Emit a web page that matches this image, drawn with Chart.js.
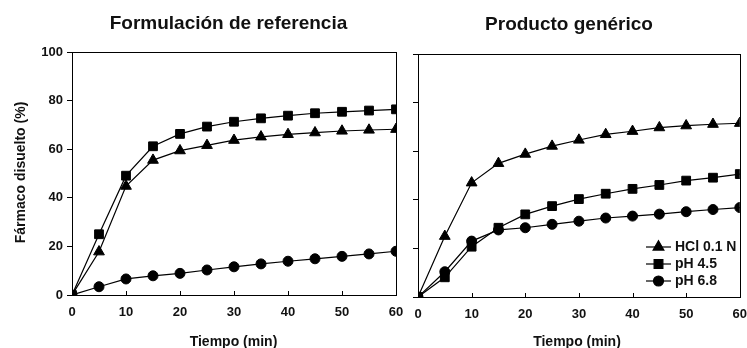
<!DOCTYPE html>
<html>
<head>
<meta charset="utf-8">
<script src="https://cdn.jsdelivr.net/npm/chart.js@4.4.1/dist/chart.umd.min.js"></script>
<style>
html, body { margin: 0; padding: 0; background: #fff; }
#wrap { position: relative; width: 747px; height: 348px; overflow: hidden; }
canvas { position: absolute; top: 0; }
#chartRef { left: 0; }
#chartGen { left: 405px; }
</style>
</head>
<body>
<div id="wrap">
  <canvas id="chartRef" width="405" height="348"></canvas>
  <canvas id="chartGen" width="342" height="348"></canvas>
</div>
<script>
// Tiempo de muestreo (min)
const tiempo = [0, 5, 10, 15, 20, 25, 30, 35, 40, 45, 50, 55, 60];

// Formulación de referencia (% disuelto)
const refHCl  = [0, 17.8, 44.8, 55.5, 59.4, 61.6, 63.7, 65.1, 66.1, 66.8, 67.5, 67.9, 68.2];
const refPH45 = [0, 25.0, 49.1, 61.2, 66.3, 69.3, 71.3, 72.7, 73.8, 74.8, 75.4, 75.9, 76.4];
const refPH68 = [0, 3.4, 6.6, 7.9, 8.9, 10.3, 11.6, 12.8, 13.9, 14.9, 15.9, 16.9, 18.0];

// Producto genérico (% disuelto)
const genHCl  = [0, 25.0, 47.0, 55.0, 58.8, 62.1, 64.6, 66.9, 68.2, 69.7, 70.5, 71.1, 71.5];
const genPH45 = [0, 8.1, 20.7, 28.5, 34.0, 37.4, 40.3, 42.5, 44.5, 46.1, 47.9, 49.1, 50.6];
const genPH68 = [0, 10.4, 23.0, 27.6, 28.5, 29.9, 31.2, 32.5, 33.3, 34.1, 35.1, 36.0, 36.8];

const medios = ['HCl 0.1 N', 'pH 4.5', 'pH 6.8'];
const simbolos = ['triangle', 'rect', 'circle'];
const radios = [6.2, 6.2, 5];

const xTicks = [0, 10, 20, 30, 40, 50, 60];
const yTicks = [0, 20, 40, 60, 80, 100];

const FONT = '"Liberation Sans", Arial, Helvetica, sans-serif';

function makeDatasets(series) {
    return series.map((vals, i) => ({
        label: medios[i],
        data: tiempo.map((t, j) => ({ x: t, y: vals[j] })),
        borderColor: '#000',
        backgroundColor: '#000',
        borderWidth: 1.2,
        pointStyle: simbolos[i],
        pointRadius: radios[i],
        pointBackgroundColor: '#000',
        pointBorderColor: '#000',
        pointBorderWidth: 1,
        tension: 0,
        fill: false
    }));
}

// marcos, títulos, marcas internas del eje x y leyenda
const panelDecor = {
    id: 'panelDecor',
    afterDraw(chart, args, opts) {
        const { ctx, chartArea } = chart;
        const a = chartArea;
        ctx.save();
        ctx.strokeStyle = '#000';
        ctx.lineWidth = 1;
        ctx.strokeRect(Math.round(a.left) + 0.5, Math.round(a.top) + 0.5,
                       Math.round(a.right - a.left), Math.round(a.bottom - a.top));

        // marcas hacia dentro en el eje x
        const xs = chart.scales.x;
        ctx.beginPath();
        xs.ticks.forEach(t => {
            const px = Math.round(xs.getPixelForValue(t.value)) + 0.5;
            ctx.moveTo(px, a.bottom);
            ctx.lineTo(px, a.bottom - 4);
        });
        ctx.stroke();

        ctx.fillStyle = '#111';
        ctx.textAlign = 'center';
        ctx.textBaseline = 'alphabetic';
        ctx.font = 'bold 19px ' + FONT;
        ctx.fillText(opts.title, opts.titleX, opts.titleY);

        ctx.font = 'bold 14px ' + FONT;
        ctx.fillText('Tiempo (min)', opts.xTitleX, 345.5);

        if (opts.yTitle) {
            ctx.save();
            ctx.translate(25, 172.5);
            ctx.rotate(-Math.PI / 2);
            ctx.fillText(opts.yTitle, 0, 0);
            ctx.restore();
        }

        if (opts.legend) {
            const L = opts.legend;
            ctx.font = 'bold 14px ' + FONT;
            ctx.textAlign = 'left';
            ctx.textBaseline = 'middle';
            chart.data.datasets.forEach((ds, i) => {
                const y = L.y + i * L.gap;
                ctx.beginPath();
                ctx.lineWidth = 1.2;
                ctx.moveTo(L.x1, y);
                ctx.lineTo(L.x2, y);
                ctx.stroke();
                ctx.fillStyle = '#000';
                Chart.helpers.drawPoint(ctx, {
                    pointStyle: ds.pointStyle,
                    radius: ds.pointRadius,
                    rotation: 0,
                    borderWidth: 1
                }, (L.x1 + L.x2) / 2, y);
                ctx.fillStyle = '#111';
                ctx.fillText(ds.label, L.tx, y + 0.5);
            });
        }
        ctx.restore();
    }
};

function makeOptions(cfg) {
    return {
        responsive: false,
        animation: false,
        devicePixelRatio: 1,
        layout: { padding: { top: cfg.top, right: cfg.right, left: 0, bottom: 0 } },
        plugins: {
            legend: { display: false },
            tooltip: { enabled: false },
            panelDecor: cfg.decor
        },
        scales: {
            x: {
                type: 'linear',
                min: 0, max: 60,
                afterBuildTicks: s => { s.ticks = xTicks.map(v => ({ value: v })); },
                afterFit: s => { s.height = cfg.xHeight; s.paddingLeft = 0; s.paddingRight = 0; },
                border: { display: false },
                grid: { display: false, drawTicks: false },
                ticks: {
                    padding: 10,
                    color: '#111',
                    font: { family: FONT, size: 13, weight: 'bold' },
                    maxRotation: 0
                }
            },
            y: {
                type: 'linear',
                min: 0, max: 100,
                afterBuildTicks: s => { s.ticks = yTicks.map(v => ({ value: v })); },
                afterFit: s => { s.width = cfg.yWidth; },
                border: { display: false },
                grid: {
                    drawOnChartArea: false,
                    drawTicks: true,
                    tickLength: 5,
                    color: '#000',
                    lineWidth: 1
                },
                ticks: {
                    display: cfg.yLabels,
                    padding: 4,
                    color: '#111',
                    font: { family: FONT, size: 13, weight: 'bold' }
                }
            }
        }
    };
}

new Chart(document.getElementById('chartRef'), {
    type: 'line',
    data: { datasets: makeDatasets([refHCl, refPH45, refPH68]) },
    options: makeOptions({
        top: 52, right: 9, xHeight: 53, yWidth: 72, yLabels: true,
        decor: {
            title: 'Formulación de referencia', titleX: 228.5, titleY: 28.5,
            xTitleX: 233.5, yTitle: 'Fármaco disuelto (%)'
        }
    }),
    plugins: [panelDecor]
});

new Chart(document.getElementById('chartGen'), {
    type: 'line',
    data: { datasets: makeDatasets([genHCl, genPH45, genPH68]) },
    options: makeOptions({
        top: 54, right: 5, xHeight: 51, yWidth: 13, yLabels: false,
        decor: {
            title: 'Producto genérico', titleX: 164, titleY: 29.5,
            xTitleX: 172,
            legend: { x1: 241, x2: 266, tx: 270, y: 247, gap: 17 }
        }
    }),
    plugins: [panelDecor]
});
</script>
</body>
</html>
